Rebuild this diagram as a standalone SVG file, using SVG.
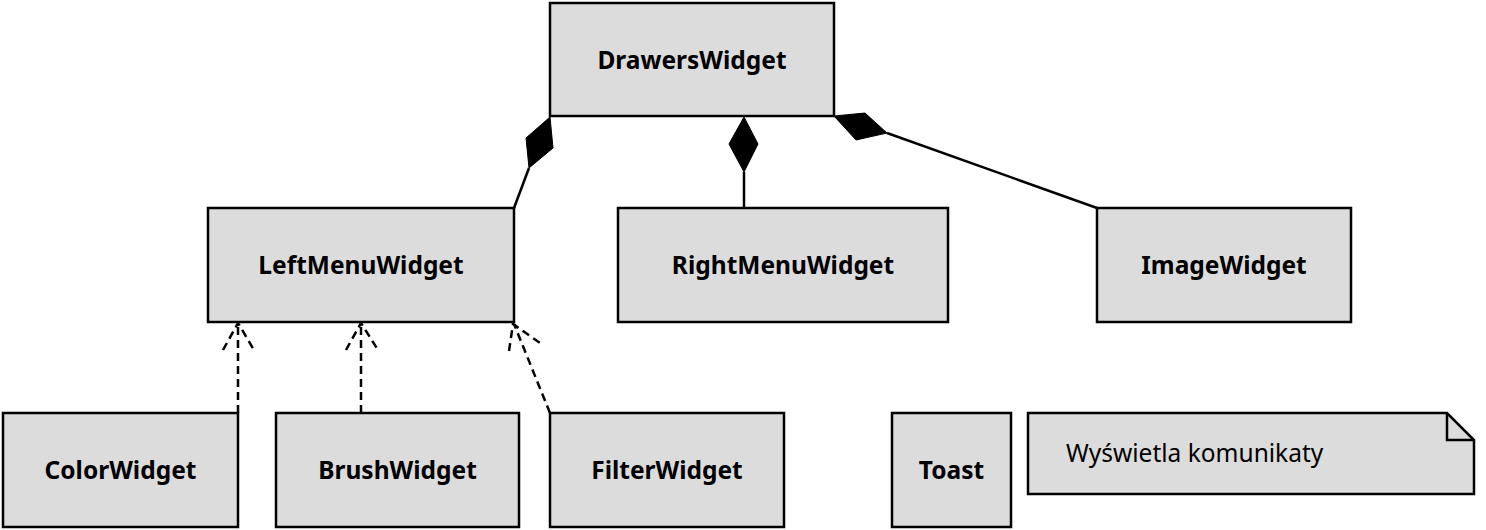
<svg xmlns="http://www.w3.org/2000/svg" width="1486" height="530" viewBox="0 0 1486 530">
<style>
.box{fill:#dcdcdc;stroke:#000;stroke-width:2.5}
.lbl{font-family:"Noto Sans",sans-serif;font-weight:bold;font-size:24.5px;text-anchor:middle;fill:#000}
.note{font-family:"Noto Sans",sans-serif;font-size:24.5px;fill:#000}
.ln{fill:none;stroke:#000;stroke-width:2.5}
.dash{fill:none;stroke:#000;stroke-width:2.5;stroke-dasharray:8,5}
.dia{fill:#000;stroke:#000;stroke-width:1}
</style>
<rect width="1486" height="530" fill="#fff"/>
<g id="connectors">
<path class="ln" d="M529,168 L514,208"/>
<polygon class="dia" points="550,117 526,138 529,168 553,148"/>
<path class="ln" d="M744,172 L744,208"/>
<polygon class="dia" points="744,117 729,144 744,172 758,144"/>
<path class="ln" d="M887,133 L1097,208"/>
<polygon class="dia" points="834,116 865,113 887,133 856,140"/>
<path class="dash" d="M238,413 L238,324"/>
<path class="dash" d="M223,350 L238,323 L254,350"/>
<path class="dash" d="M361,413 L361,324"/>
<path class="dash" d="M346,350 L361,323 L378,350"/>
<path class="dash" d="M550,413 L514,324"/>
<path class="dash" d="M509,351 L513,324 L540,343"/>
</g>
<g id="DrawersWidget"><rect class="box" x="550" y="3" width="284" height="113"/><text class="lbl" x="692" y="69">DrawersWidget</text></g>
<g id="LeftMenuWidget"><rect class="box" x="208" y="208" width="306" height="114"/><text class="lbl" x="361" y="274">LeftMenuWidget</text></g>
<g id="RightMenuWidget"><rect class="box" x="618" y="208" width="330" height="114"/><text class="lbl" x="783" y="274">RightMenuWidget</text></g>
<g id="ImageWidget"><rect class="box" x="1097" y="208" width="254" height="114"/><text class="lbl" x="1224" y="274">ImageWidget</text></g>
<g id="ColorWidget"><rect class="box" x="3" y="413" width="235" height="114"/><text class="lbl" x="120.5" y="479">ColorWidget</text></g>
<g id="BrushWidget"><rect class="box" x="276" y="413" width="243" height="114"/><text class="lbl" x="397.5" y="479">BrushWidget</text></g>
<g id="FilterWidget"><rect class="box" x="550" y="413" width="234" height="114"/><text class="lbl" x="667" y="479">FilterWidget</text></g>
<g id="Toast"><rect class="box" x="892" y="413" width="119" height="114"/><text class="lbl" x="951.5" y="479">Toast</text></g>
<g id="Note"><path class="box" d="M1028,413 L1447,413 L1474,440 L1474,494 L1028,494 Z"/><path class="ln" d="M1447,413 L1447,440 L1474,440"/><text class="note" x="1066" y="462">Wyświetla komunikaty</text></g>
</svg>
